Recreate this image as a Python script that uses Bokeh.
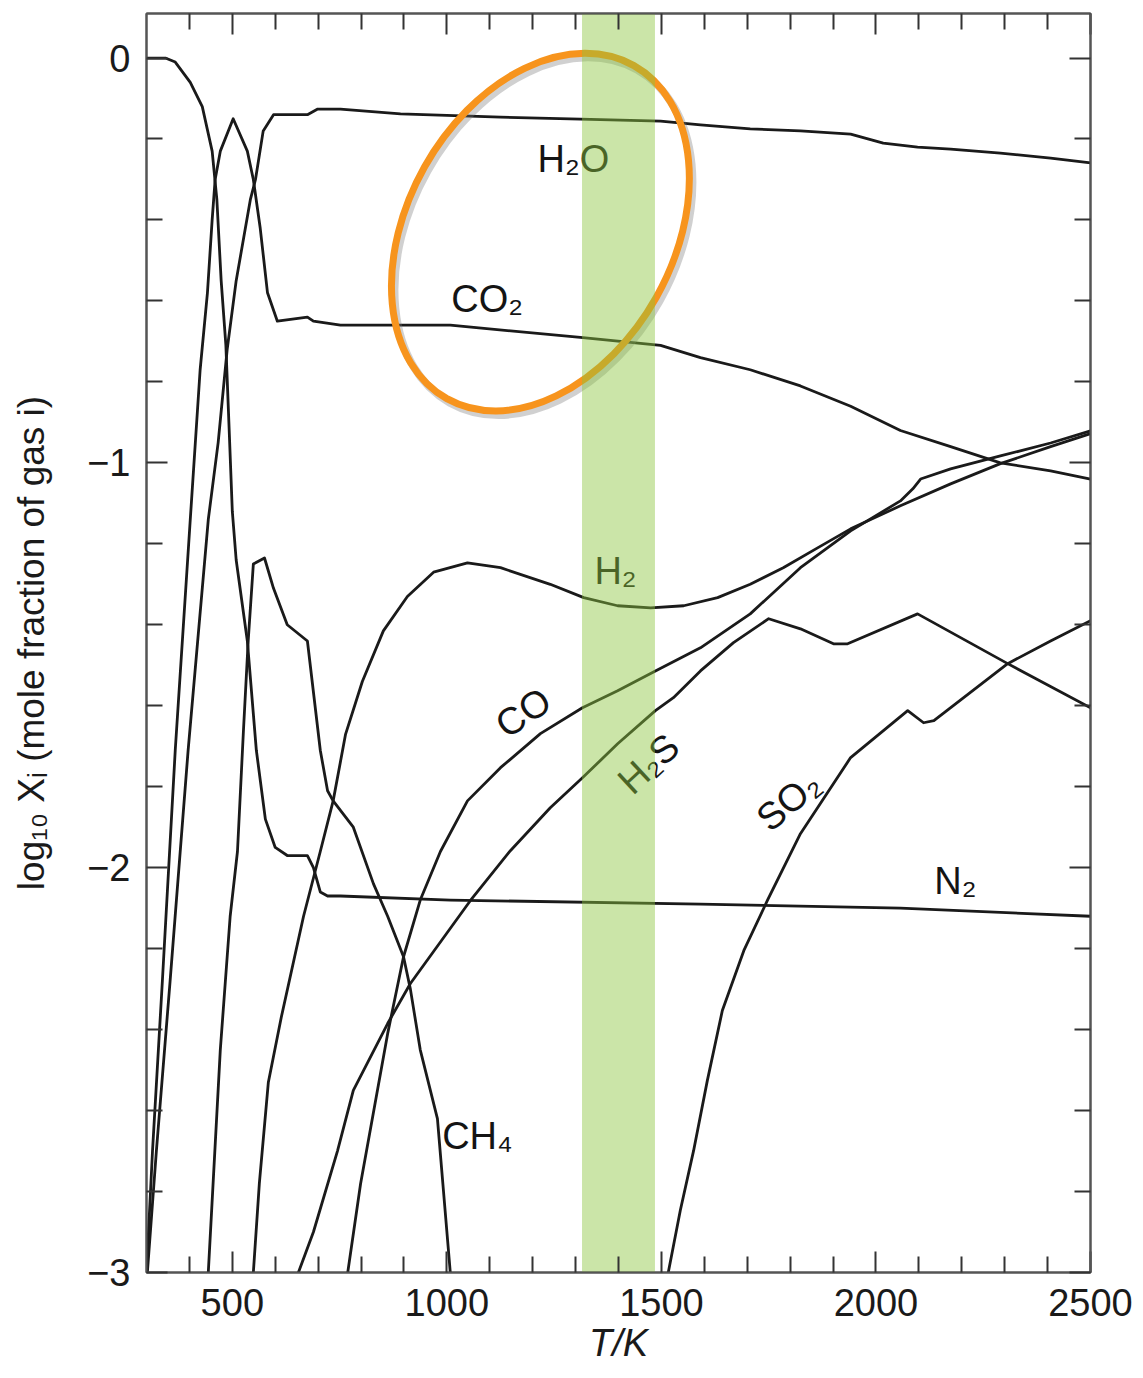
import numpy as np
from bokeh.plotting import figure
from bokeh.models import Range1d, FixedTicker, LinearAxis, ColumnDataSource
from bokeh.core.properties import value
from bokeh.embed import file_html
from bokeh.resources import INLINE

# ---------------- data (T in K, log10 mole fraction) ----------------
N2_T = [300, 344, 367, 402, 430, 453, 464, 474, 485, 492, 500, 509, 535, 556, 577, 600, 628, 675, 689, 705, 722, 752, 1008, 1591, 2057, 2500]
N2_v = [0.0, 0.0, -0.01, -0.06, -0.12, -0.23, -0.35, -0.55, -0.71, -0.90, -1.12, -1.24, -1.44, -1.71, -1.88, -1.95, -1.97, -1.97, -2.00, -2.06, -2.07, -2.07, -2.08, -2.09, -2.10, -2.12]

CO2_T = [300, 314, 337, 367, 402, 425, 442, 453, 460, 472, 502, 535, 549, 565, 582, 605, 675, 689, 752, 1008, 1311, 1498, 1591, 1707, 1824, 1941, 2057, 2174, 2290, 2407, 2500]
CO2_v = [-3.0, -2.70, -2.28, -1.71, -1.14, -0.77, -0.58, -0.40, -0.30, -0.23, -0.15, -0.23, -0.30, -0.42, -0.58, -0.65, -0.64, -0.65, -0.66, -0.66, -0.69, -0.71, -0.74, -0.77, -0.81, -0.86, -0.92, -0.96, -1.00, -1.02, -1.04]

H2O_T = [302, 323, 355, 397, 444, 467, 488, 509, 542, 554, 572, 596, 675, 699, 752, 892, 1125, 1311, 1498, 1591, 1707, 1824, 1941, 2017, 2097, 2174, 2290, 2407, 2500]
H2O_v = [-3.0, -2.70, -2.28, -1.71, -1.14, -0.95, -0.72, -0.55, -0.35, -0.30, -0.18, -0.14, -0.14, -0.126, -0.126, -0.138, -0.146, -0.151, -0.156, -0.165, -0.175, -0.180, -0.188, -0.210, -0.220, -0.225, -0.235, -0.247, -0.259]

CH4_T = [444, 472, 495, 512, 526, 537, 549, 575, 596, 628, 675, 705, 722, 735, 782, 829, 862, 899, 915, 938, 978, 1008]
CH4_v = [-3.0, -2.45, -2.12, -1.96, -1.66, -1.44, -1.25, -1.235, -1.31, -1.40, -1.44, -1.71, -1.81, -1.835, -1.90, -2.04, -2.12, -2.22, -2.30, -2.45, -2.62, -3.0]

H2_T = [549, 563, 584, 614, 666, 705, 735, 764, 803, 852, 908, 969, 1048, 1125, 1241, 1319, 1398, 1475, 1552, 1631, 1707, 1784, 1864, 1941, 2057, 2174, 2290, 2407, 2500]
H2_v = [-3.0, -2.78, -2.53, -2.37, -2.12, -1.96, -1.835, -1.67, -1.54, -1.415, -1.33, -1.27, -1.247, -1.259, -1.30, -1.333, -1.353, -1.358, -1.353, -1.333, -1.30, -1.259, -1.21, -1.163, -1.106, -1.052, -1.002, -0.960, -0.928]

CO_T = [769, 799, 862, 899, 938, 985, 1048, 1125, 1218, 1316, 1398, 1486, 1591, 1707, 1824, 1941, 2057, 2086, 2104, 2174, 2290, 2407, 2500]
CO_v = [-3.0, -2.78, -2.41, -2.22, -2.08, -1.96, -1.835, -1.753, -1.669, -1.605, -1.563, -1.514, -1.457, -1.373, -1.259, -1.168, -1.094, -1.064, -1.040, -1.015, -0.983, -0.951, -0.921]

H2S_T = [654, 689, 745, 782, 862, 915, 1055, 1148, 1241, 1316, 1398, 1486, 1528, 1591, 1668, 1750, 1824, 1901, 1934, 2097, 2307, 2500]
H2S_v = [-3.0, -2.90, -2.70, -2.55, -2.385, -2.286, -2.081, -1.958, -1.852, -1.778, -1.694, -1.612, -1.580, -1.514, -1.444, -1.385, -1.410, -1.447, -1.447, -1.373, -1.496, -1.605]

SO2_T = [1516, 1544, 1575, 1607, 1642, 1692, 1747, 1824, 1941, 2074, 2111, 2135, 2307, 2407, 2500]
SO2_v = [-3.0, -2.847, -2.699, -2.526, -2.353, -2.205, -2.081, -1.916, -1.728, -1.612, -1.642, -1.637, -1.496, -1.440, -1.390]

species_names = ["H\u2082O", "CO\u2082", "H\u2082", "CO", "H\u2082S", "SO\u2082", "N\u2082", "CH\u2084"]

x_major = [500, 1000, 1500, 2000, 2500]
x_minor = [400, 600, 700, 800, 900, 1100, 1200, 1300, 1400, 1600, 1700, 1800, 1900, 2100, 2200, 2300, 2400]
y_major = [-3, -2, -1, 0]
y_minor = [-2.8, -2.6, -2.4, -2.2, -1.8, -1.6, -1.4, -1.2, -0.8, -0.6, -0.4, -0.2]

x_title = "T/K"
y_title = "log\u2081\u2080 X\u1d62 (mole fraction of gas i)"

band_T = (1315, 1485)          # highlighted temperature window
circle_center = (1218, -0.43)  # orange highlight ellipse centre

# ---------------- figure ----------------
FONT = "Liberation Sans"
X0, X1, Y0, Y1 = 300, 2500, -3.0, 0.11
W, H = 1134, 1376
BL, BR, BT, BB = 146, 44, 13, 104
p = figure(width=W, height=H, output_backend="svg", toolbar_location=None,
           x_range=Range1d(X0, X1), y_range=Range1d(Y0, Y1),
           min_border_left=BL, min_border_right=BR, min_border_top=BT, min_border_bottom=BB,
           background_fill_color="white", border_fill_color="white")
p.xgrid.visible = False
p.ygrid.visible = False
p.outline_line_color = "#555555"
p.outline_line_width = 2

xt = FixedTicker(ticks=x_major, minor_ticks=x_minor)
yt = FixedTicker(ticks=y_major, minor_ticks=y_minor)


def style_axis(ax, labels):
    ax.axis_line_color = "#555555"
    ax.axis_line_width = 2
    ax.major_tick_line_color = "#333333"
    ax.major_tick_line_width = 2
    ax.minor_tick_line_color = "#333333"
    ax.minor_tick_line_width = 2
    ax.major_tick_in = 21
    ax.major_tick_out = 0
    ax.minor_tick_in = 16
    ax.minor_tick_out = 0
    if labels:
        ax.major_label_text_font = FONT
        ax.major_label_text_font_size = "38px"
        ax.major_label_text_color = "#1a1a1a"
        ax.axis_label_text_font = FONT
        ax.axis_label_text_font_size = "38px"
        ax.axis_label_text_color = "#1a1a1a"
    else:
        ax.major_label_overrides = {t: "" for t in ax.ticker.ticks}
        ax.major_label_text_font_size = "1px"
        ax.major_label_standoff = 0


xa = p.xaxis[0]
xa.ticker = xt
style_axis(xa, True)
xa.major_label_standoff = 16
xa.axis_label = x_title
xa.axis_label_text_font_style = "italic"
xa.axis_label_standoff = 3

ya = p.yaxis[0]
ya.ticker = yt
style_axis(ya, True)
ya.major_label_standoff = 16
ya.axis_label = y_title
ya.axis_label_text_font_style = "normal"
ya.axis_label_text_font_size = "37px"
ya.axis_label_standoff = 32

top = LinearAxis(ticker=xt)
style_axis(top, False)
p.add_layout(top, "above")
right = LinearAxis(ticker=yt)
style_axis(right, False)
p.add_layout(right, "right")

# ---------------- curves ----------------
LC = "#1a1a1a"
for T, v in [(N2_T, N2_v), (CO2_T, CO2_v), (H2O_T, H2O_v), (CH4_T, CH4_v),
             (H2_T, H2_v), (CO_T, CO_v), (H2S_T, H2S_v), (SO2_T, SO2_v)]:
    p.line(T, v, line_color=LC, line_width=2.8, line_join="round")

# species labels
lab = ColumnDataSource(dict(
    x=[1295, 1094, 1393, 1178, 1470, 1796, 2185, 1071],
    y=[-0.249, -0.595, -1.267, -1.617, -1.743, -1.835, -2.032, -2.662],
    text=species_names,
    angle=[0, 0, 0, 0.60, 0.75, 0.70, 0, 0],
))
p.text(x="x", y="y", text="text", angle="angle", source=lab,
       text_font=value(FONT), text_font_size="38px", text_color="#141414",
       text_align="center", text_baseline="middle")

# orange ellipse (with faint shadow)
p.ellipse(x=[circle_center[0] + 7], y=[circle_center[1] - 0.01], width=382, height=266,
          width_units="screen", height_units="screen", angle=1.059,
          fill_color=None, line_color="#777777", line_alpha=0.35, line_width=8)
p.ellipse(x=[circle_center[0]], y=[circle_center[1]], width=382, height=266,
          width_units="screen", height_units="screen", angle=1.059,
          fill_color=None, line_color="#F7941D", line_width=7)

# translucent green band on top
p.quad(left=[band_T[0]], right=[band_T[1]], bottom=[-3.2], top=[0.3],
       fill_color="#8BC53F", fill_alpha=0.45, line_color=None)

open("out.html", "w").write(file_html(p, INLINE))
